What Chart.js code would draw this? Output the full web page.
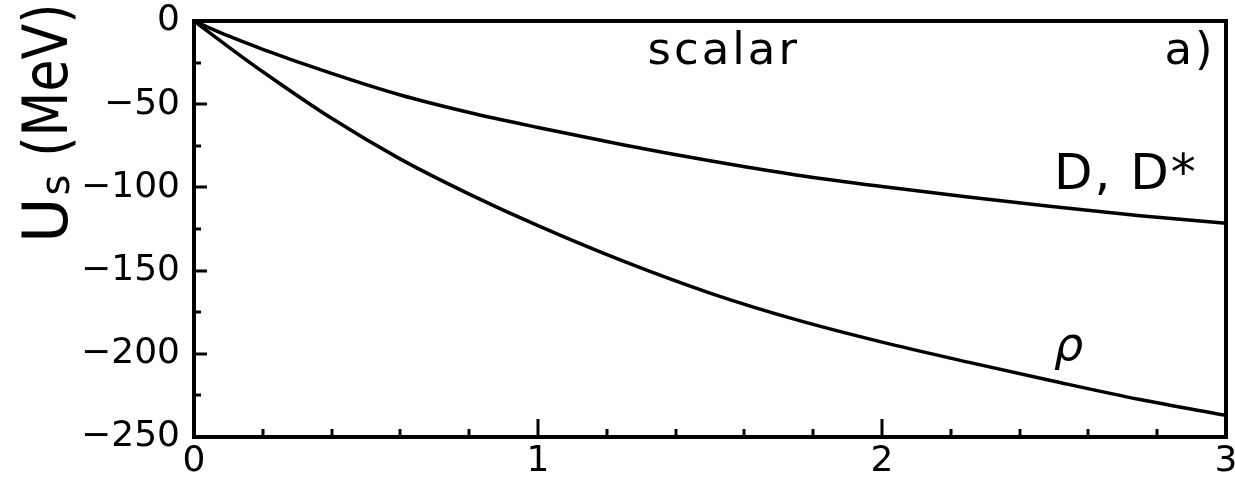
<!DOCTYPE html>
<html>
<head>
<meta charset="utf-8">
<script src="https://cdn.jsdelivr.net/npm/chart.js@4.4.0/dist/chart.umd.min.js"></script>
<style>
  html, body { margin: 0; padding: 0; background: #fff; }
  #wrap { width: 1235px; height: 477px; }
</style>
</head>
<body>
<div id="wrap"><canvas id="scalarChart" width="1235" height="477"></canvas></div>
<script>
// momentum (GeV/c) and scalar potential U_s (MeV)
const momentum = [0, 0.1, 0.2, 0.4, 0.6, 0.8, 1.0, 1.25, 1.5, 1.75, 2.0, 2.25, 2.5, 2.75, 3.0];
const usD = [0, -9, -17, -31.5, -44.5, -55, -64, -74.5, -84, -92.5, -99.5, -105.8, -111.6, -117, -121.6];
const usRho = [0, -15.5, -30.5, -58.5, -83, -104, -123, -144.5, -163.5, -179.5, -193, -205, -216.5, -227.5, -237];
const xMajor = [0, 1, 2, 3];
const yMajor = [0, -50, -100, -150, -200, -250];

const FONT = '"DejaVu Sans", sans-serif';

function toPoints(xs, ys) {
  return xs.map((v, i) => ({ x: v, y: ys[i] }));
}

// frame plus inward ticks on left and bottom
const frameTicks = {
  id: "frameTicks",
  afterDatasetsDraw(chart) {
    const { ctx, chartArea: a, scales } = chart;
    const x = scales.x, y = scales.y;
    ctx.save();
    ctx.strokeStyle = "#000";
    ctx.lineCap = "butt";

    ctx.lineWidth = 3;
    for (let v = 0; v >= -250; v -= 25) {
      const py = Math.round(y.getPixelForValue(v));
      const len = v % 50 === 0 ? 13 : 7;
      ctx.beginPath();
      ctx.moveTo(a.left, py);
      ctx.lineTo(a.left + len, py);
      ctx.stroke();
    }
    for (let i = 0; i <= 15; i++) {
      const v = i * 0.2;
      const px = Math.round(x.getPixelForValue(v));
      const len = i % 5 === 0 ? 18 : 8;
      ctx.beginPath();
      ctx.moveTo(px, a.bottom);
      ctx.lineTo(px, a.bottom - len);
      ctx.stroke();
    }

    ctx.lineWidth = 4;
    ctx.strokeRect(a.left, a.top, a.right - a.left, a.bottom - a.top);
    ctx.restore();
  }
};

// axis title with subscript and the curve labels
const textLabels = {
  id: "textLabels",
  afterDraw(chart) {
    const { ctx, scales } = chart;
    const x = scales.x, y = scales.y;
    ctx.save();
    ctx.fillStyle = "#000";
    ctx.textBaseline = "alphabetic";

    // U_s (MeV), rotated
    ctx.save();
    ctx.translate(67, 243);
    ctx.rotate(-Math.PI / 2);
    ctx.textAlign = "left";
    ctx.font = "62px " + FONT;
    ctx.fillText("U", 0, 0);
    let off = ctx.measureText("U").width + 2;
    ctx.font = "40px " + FONT;
    ctx.fillText("s", off, 2);
    off += ctx.measureText("s").width + 18;
    ctx.translate(off, 0);
    ctx.scale(0.84, 1);
    ctx.font = "62px " + FONT;
    ctx.fillText("(MeV)", 0, 0);
    ctx.restore();

    ctx.font = "45px " + FONT;
    ctx.letterSpacing = "3px";
    ctx.textAlign = "center";
    ctx.fillText("scalar", x.getPixelForValue(1.54), y.getPixelForValue(-26));
    ctx.textAlign = "right";
    ctx.fillText("a)", x.getPixelForValue(2.97), y.getPixelForValue(-26));

    ctx.textAlign = "left";
    ctx.font = "50px " + FONT;
    ctx.letterSpacing = "2px";
    ctx.fillText("D, D*", x.getPixelForValue(2.5), y.getPixelForValue(-101));

    ctx.letterSpacing = "0px";
    ctx.font = "oblique 46px " + FONT;
    ctx.fillText("ρ", x.getPixelForValue(2.5), y.getPixelForValue(-204));
    ctx.restore();
  }
};

const lineStyle = {
  borderColor: "#000",
  borderWidth: 3.5,
  pointRadius: 0,
  fill: false,
  cubicInterpolationMode: "monotone",
};

const config = {
  type: "line",
  data: {
    datasets: [
      { label: "D, D*", data: toPoints(momentum, usD), ...lineStyle },
      { label: "rho", data: toPoints(momentum, usRho), ...lineStyle },
    ],
  },
  options: {
    responsive: false,
    animation: false,
    events: [],
    layout: {
      padding: { left: 0, top: 21, right: 9, bottom: 0 },
    },
    scales: {
      x: {
        type: "linear",
        min: 0,
        max: 3,
        afterBuildTicks(scale) {
          scale.ticks = xMajor.map((v) => ({ value: v }));
        },
        afterFit(scale) {
          scale.height = 40;
          scale.paddingLeft = 0;
          scale.paddingRight = 0;
        },
        grid: { display: false, drawTicks: false },
        border: { display: false },
        ticks: {
          padding: 3,
          maxRotation: 0,
          color: "#000",
          font: { family: FONT, size: 36 },
          callback: (v) => String(v),
        },
      },
      y: {
        type: "linear",
        min: -250,
        max: 0,
        afterBuildTicks(scale) {
          scale.ticks = yMajor.map((v) => ({ value: v }));
        },
        afterFit(scale) {
          scale.width = 194;
          scale.paddingTop = 0;
          scale.paddingBottom = 0;
        },
        grid: { display: false, drawTicks: false },
        border: { display: false },
        ticks: {
          padding: 14,
          color: "#000",
          font: { family: FONT, size: 36 },
          callback: (v) => (v < 0 ? "\u2212" + Math.abs(v) : String(v)),
        },
      },
    },
    plugins: {
      legend: { display: false },
      tooltip: { enabled: false },
    },
  },
  plugins: [frameTicks, textLabels],
};

new Chart(document.getElementById("scalarChart"), config);
</script>
</body>
</html>
